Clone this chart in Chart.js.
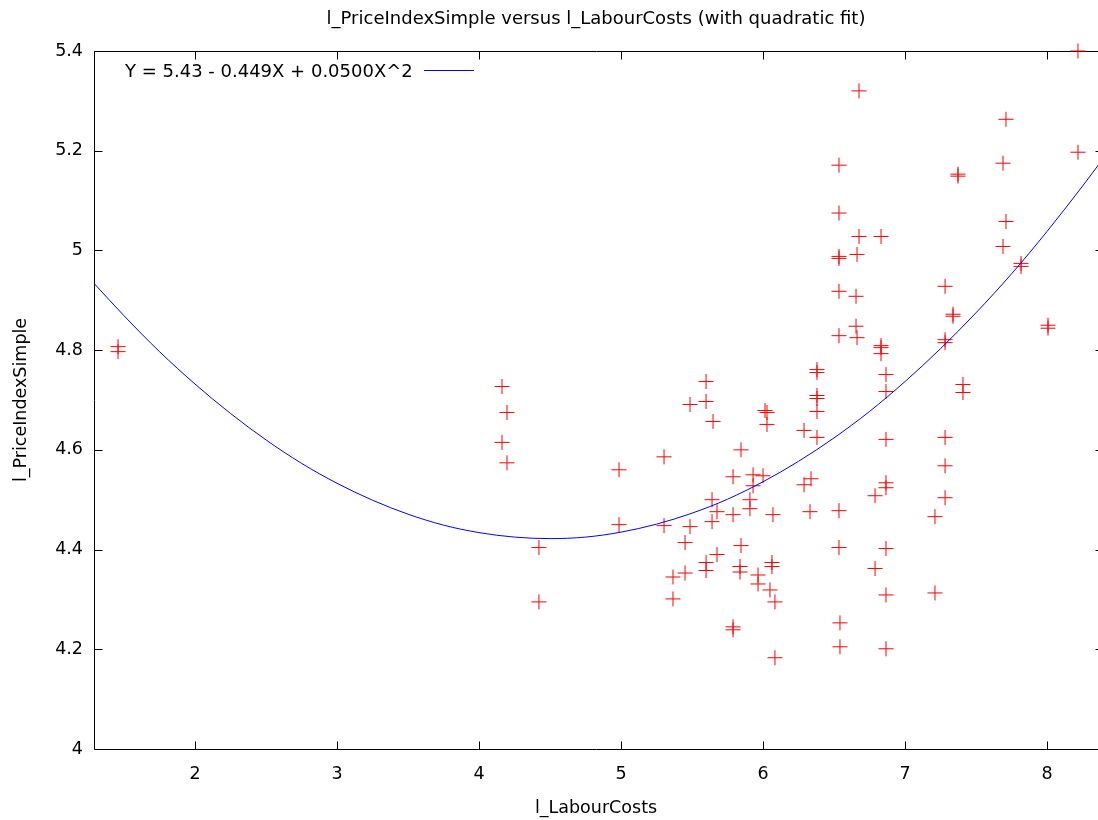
<!DOCTYPE html>
<html>
<head>
<meta charset="utf-8">
<script src="https://cdn.jsdelivr.net/npm/chart.js@4/dist/chart.umd.min.js"></script>
<style>
  html, body { margin: 0; padding: 0; background: #ffffff; }
  #c { display: block; }
</style>
</head>
<body>
<canvas id="c" width="1098" height="820"></canvas>
<script>
// ---------- data ----------
const chartTitle = 'l_PriceIndexSimple versus l_LabourCosts (with quadratic fit)';
const xAxisLabel = 'l_LabourCosts';
const yAxisLabel = 'l_PriceIndexSimple';
const fitLabel = 'Y = 5.43 - 0.449X + 0.0500X^2';

const xTickValues = [2, 3, 4, 5, 6, 7, 8];
const xTickLabels = ['2', '3', '4', '5', '6', '7', '8'];
const yTickValues = [4, 4.2, 4.4, 4.6, 4.8, 5, 5.2, 5.4];
const yTickLabels = ['4', '4.2', '4.4', '4.6', '4.8', '5', '5.2', '5.4'];
const xRange = [1.2887, 8.359];
const yRange = [4, 5.4];

// observed points: l_LabourCosts (x) and l_PriceIndexSimple (y)
const labourCosts = [
  1.458, 1.458,
  4.162, 4.162, 4.197, 4.197,
  4.422, 4.422,
  4.986, 4.986,
  5.303, 5.303,
  5.366, 5.366,
  5.451, 5.451,
  5.486, 5.486,
  5.599, 5.599, 5.599, 5.599,
  5.641, 5.641, 5.648,
  5.676, 5.676,
  5.789, 5.789, 5.789, 5.789,
  5.845, 5.845, 5.838, 5.838,
  5.908, 5.908, 5.930, 5.930,
  5.965, 5.965,
  6.000, 6.014, 6.028, 6.028,
  6.049, 6.063, 6.063, 6.070,
  6.084, 6.084,
  6.289, 6.289, 6.331, 6.338,
  6.380, 6.380, 6.380, 6.380, 6.380, 6.380,
  6.535, 6.535, 6.535, 6.535, 6.535, 6.535, 6.535, 6.535,
  6.542, 6.542,
  6.655, 6.655, 6.662, 6.662, 6.676, 6.676,
  6.789, 6.789,
  6.831, 6.831, 6.831, 6.831,
  6.866, 6.866, 6.866, 6.866, 6.866, 6.866, 6.866, 6.866,
  7.211, 7.211,
  7.282, 7.282, 7.282, 7.282, 7.282, 7.282,
  7.338, 7.338, 7.373, 7.373, 7.408, 7.408,
  7.690, 7.690, 7.711, 7.711,
  7.817, 7.817, 8.007, 8.007,
  8.218, 8.218
];
const priceIndex = [
  4.807, 4.797,
  4.727, 4.615, 4.675, 4.574,
  4.404, 4.295,
  4.560, 4.450,
  4.586, 4.448,
  4.345, 4.301,
  4.414, 4.353,
  4.691, 4.446,
  4.737, 4.697, 4.374, 4.358,
  4.500, 4.456, 4.657,
  4.476, 4.390,
  4.546, 4.470, 4.245, 4.239,
  4.600, 4.408, 4.366, 4.355,
  4.500, 4.482, 4.550, 4.528,
  4.349, 4.331,
  4.548, 4.679, 4.675, 4.651,
  4.319, 4.374, 4.366, 4.470,
  4.295, 4.183,
  4.639, 4.530, 4.476, 4.542,
  4.761, 4.755, 4.709, 4.703, 4.677, 4.625,
  5.171, 5.075, 4.988, 4.984, 4.918, 4.829, 4.478, 4.404,
  4.253, 4.205,
  4.908, 4.848, 4.992, 4.825, 5.320, 5.028,
  4.508, 4.362,
  5.028, 4.809, 4.805, 4.793,
  4.751, 4.717, 4.621, 4.534, 4.524, 4.402, 4.309, 4.201,
  4.466, 4.313,
  4.928, 4.821, 4.815, 4.625, 4.568, 4.504,
  4.872, 4.868, 5.153, 5.149, 4.731, 4.715,
  5.175, 5.008, 5.263, 5.058,
  4.974, 4.968, 4.850, 4.844,
  5.400, 5.197
];

// quadratic fit curve, sampled along the plotted blue line
const fitX = [1.2887, 1.5, 1.75, 2, 2.25, 2.5, 2.75, 3, 3.25, 3.5, 3.75, 4, 4.25, 4.5, 4.75,
              5, 5.25, 5.5, 5.75, 6, 6.25, 6.5, 6.75, 7, 7.25, 7.5, 7.75, 8, 8.25, 8.3873];
const fitY = [4.934, 4.869, 4.797, 4.732, 4.673, 4.620, 4.573, 4.533, 4.499, 4.471, 4.449, 4.434, 4.425, 4.422, 4.425,
              4.435, 4.451, 4.473, 4.501, 4.536, 4.577, 4.624, 4.677, 4.737, 4.803, 4.875, 4.953, 5.038, 5.129, 5.181];

// ---------- styles ----------
const FONT = '"DejaVu Sans", "Liberation Sans", sans-serif';
const tickFont = { family: FONT, size: 17.5 };

const gnuFrame = {
  id: 'gnuFrame',
  beforeDatasetsDraw(chart) {
    const { ctx, chartArea: a, scales: { x, y } } = chart;
    const L = Math.round(a.left) + 0.5, R = Math.round(a.right) + 0.5;
    const T = Math.round(a.top) + 0.5, B = Math.round(a.bottom) + 0.5;
    const tl = 8;
    const Rt = R + 5; // right border sits just beyond the canvas edge
    ctx.save();
    ctx.strokeStyle = '#000000';
    ctx.lineWidth = 1;
    ctx.beginPath();
    ctx.moveTo(L, T); ctx.lineTo(R, T); ctx.lineTo(R, B); ctx.lineTo(L, B); ctx.closePath();
    x.ticks.forEach(t => {
      const px = Math.round(x.getPixelForValue(t.value)) + 0.5;
      ctx.moveTo(px, B); ctx.lineTo(px, B - tl);
      ctx.moveTo(px, T); ctx.lineTo(px, T + tl);
    });
    y.ticks.forEach(t => {
      const py = Math.round(y.getPixelForValue(t.value)) + 0.5;
      ctx.moveTo(L, py); ctx.lineTo(L + tl, py);
      ctx.moveTo(Rt, py); ctx.lineTo(Rt - tl, py);
    });
    ctx.stroke();
    ctx.restore();
  }
};

const gnuKey = {
  id: 'gnuKey',
  afterDatasetsDraw(chart) {
    const { ctx, chartArea: a } = chart;
    const ds = chart.data.datasets[0];
    ctx.save();
    ctx.font = '18px ' + FONT;
    ctx.fillStyle = '#000000';
    ctx.textAlign = 'left';
    ctx.textBaseline = 'middle';
    ctx.fillText(ds.label, a.left + 31, a.top + 21);
    const ly = Math.round(a.top + 19) + 0.5;
    ctx.strokeStyle = ds.borderColor;
    ctx.lineWidth = 1;
    ctx.beginPath();
    ctx.moveTo(a.left + 330, ly);
    ctx.lineTo(a.left + 380, ly);
    ctx.stroke();
    ctx.restore();
  }
};

new Chart(document.getElementById('c'), {
  type: 'scatter',
  data: {
    datasets: [
      {
        label: fitLabel,
        data: fitX.map((v, i) => ({ x: v, y: fitY[i] })),
        showLine: true,
        borderColor: '#0000ff',
        backgroundColor: '#0000ff',
        borderWidth: 1,
        pointRadius: 0,
        cubicInterpolationMode: 'monotone',
        order: 0
      },
      {
        label: 'observations',
        data: labourCosts.map((v, i) => ({ x: v, y: priceIndex[i] })),
        showLine: false,
        pointStyle: 'cross',
        pointRadius: 7.5,
        pointBorderWidth: 1,
        borderColor: '#ff0000',
        backgroundColor: '#ff0000',
        clip: false,
        order: 1
      }
    ]
  },
  options: {
    responsive: false,
    animation: false,
    devicePixelRatio: 1,
    layout: { autoPadding: false, padding: { left: 0, right: 0, top: 0, bottom: 0 } },
    plugins: {
      legend: { display: false },
      tooltip: { enabled: false },
      title: {
        display: true,
        text: chartTitle,
        fullSize: false,
        color: '#000000',
        font: { family: FONT, size: 18, weight: 'normal' },
        padding: { top: 9, bottom: 20.4 }
      }
    },
    scales: {
      x: {
        type: 'linear',
        min: xRange[0],
        max: xRange[1],
        afterBuildTicks: s => { s.ticks = xTickValues.map(v => ({ value: v })); },
        afterFit: s => { s.height = 71; s.paddingLeft = 0; s.paddingRight = 0; },
        grid: { display: false, drawTicks: false },
        border: { display: false },
        ticks: {
          color: '#000000',
          font: tickFont,
          padding: 15,
          maxRotation: 0,
          autoSkip: false,
          callback: (v, i) => xTickLabels[i]
        },
        title: {
          display: true,
          text: xAxisLabel,
          color: '#000000',
          font: tickFont,
          padding: { top: 0, bottom: 1.5 }
        }
      },
      y: {
        type: 'linear',
        min: yRange[0],
        max: yRange[1],
        afterBuildTicks: s => { s.ticks = yTickValues.map(v => ({ value: v })); },
        afterFit: s => { s.width = 94; s.paddingTop = 0; s.paddingBottom = 0; },
        grid: { display: false, drawTicks: false },
        border: { display: false },
        ticks: {
          color: '#000000',
          font: tickFont,
          padding: 11,
          autoSkip: false,
          callback: (v, i) => yTickLabels[i]
        },
        title: {
          display: true,
          text: yAxisLabel,
          color: '#000000',
          font: tickFont,
          padding: { top: 10.5, bottom: 0 }
        }
      }
    }
  },
  plugins: [gnuFrame, gnuKey]
});
</script>
</body>
</html>
